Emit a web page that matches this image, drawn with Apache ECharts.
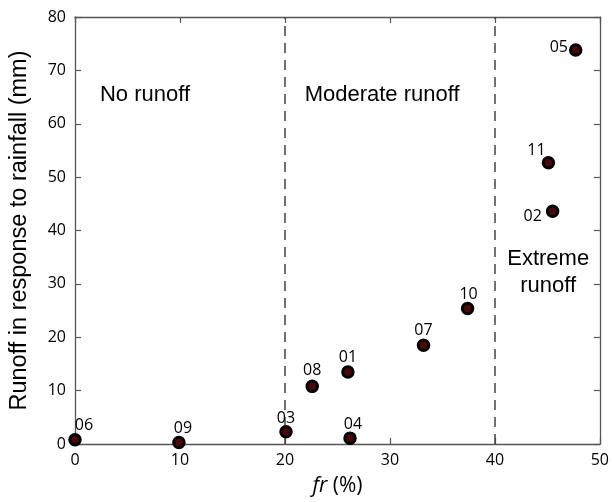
<!DOCTYPE html>
<html>
<head>
<meta charset="utf-8">
<script src="https://cdn.jsdelivr.net/npm/echarts@6/dist/echarts.min.js"></script>
<style>html,body{margin:0;padding:0;background:#fff}#c{width:612px;height:502px}</style>
</head>
<body>
<div id="c"></div>
<script>
// ---- data ----
const ids = ['06','09','03','04','08','01','07','10','05','11','02'];
const frValues = [0, 9.9, 20.1, 26.2, 22.6, 26.0, 33.2, 37.4, 47.7, 45.1, 45.5];
const runoffValues = [0.8, 0.3, 2.3, 1.1, 10.8, 13.5, 18.5, 25.4, 73.8, 52.7, 43.6];
const xTicks = [0, 10, 20, 30, 40, 50];
const yTicks = [0, 10, 20, 30, 40, 50, 60, 70, 80];
const thresholds = [20, 40];
const regionNames = ['No runoff', 'Moderate runoff', 'Extreme\nrunoff'];
const regionX = [2.4, 21.9, 45.1];
const regionY = [65.4, 65.4, 32.1];

// ---- label placement (style only) ----
const labelPlace = {
  '06': {position: 'top', offset: [9, 5]},
  '09': {position: 'top', offset: [4, 6]},
  '03': {position: 'top', offset: [0, 6]},
  '04': {position: 'top', offset: [3, 6]},
  '08': {position: 'top', offset: [0, 4]},
  '01': {position: 'top', offset: [0, 5]},
  '07': {position: 'top', offset: [0, 5]},
  '10': {position: 'top', offset: [1, 6]},
  '05': {position: 'left', offset: [4, -3]},
  '11': {position: 'top', offset: [-12, 7]},
  '02': {position: 'left', offset: [1, 5]}
};
const regionAlign = ['left', 'left', 'center'];

const tickFont = 'Open Sans';
const axisColor = '#555';
const textColor = '#000';

const points = ids.map((id, i) => ({
  value: [frValues[i], runoffValues[i]],
  name: id,
  label: Object.assign({show: true, formatter: id}, labelPlace[id])
}));

const regions = regionNames.map((n, i) => ({
  value: [regionX[i], regionY[i]],
  label: {show: true, formatter: n, position: [0, 0], align: regionAlign[i], verticalAlign: 'middle'}
}));

const xMin = xTicks[0], xMax = xTicks[xTicks.length - 1], xInt = xTicks[1] - xTicks[0];
const yMin = yTicks[0], yMax = yTicks[yTicks.length - 1], yInt = yTicks[1] - yTicks[0];

const baseAxisLine = {show: true, onZero: false, lineStyle: {color: axisColor, width: 1.3}};
const baseTick = {show: true, inside: true, length: 6, lineStyle: {color: axisColor, width: 1.2}};

const chart = echarts.init(document.getElementById('c'), null, {renderer: 'canvas'});
chart.setOption({
  animation: false,
  backgroundColor: '#fff',
  grid: {left: 74, right: 10, top: 17, bottom: 57, containLabel: false},
  xAxis: [{
    type: 'value', min: xMin, max: xMax, interval: xInt, position: 'bottom',
    axisLine: baseAxisLine, axisTick: baseTick, splitLine: {show: false},
    axisLabel: {color: textColor, fontFamily: tickFont, fontSize: 16, margin: 8},
    name: '{i|fr} (%)', nameLocation: 'middle', nameGap: 32,
    nameTextStyle: {
      color: textColor, fontFamily: tickFont, fontSize: 21,
      rich: {i: {fontStyle: 'italic', fontFamily: tickFont, fontSize: 21, color: textColor}}
    }
  }, {
    type: 'value', min: xMin, max: xMax, interval: xInt, position: 'top',
    axisLine: baseAxisLine, axisTick: baseTick, splitLine: {show: false},
    axisLabel: {show: false}
  }],
  yAxis: [{
    type: 'value', min: yMin, max: yMax, interval: yInt, position: 'left',
    axisLine: baseAxisLine, axisTick: baseTick, splitLine: {show: false},
    axisLabel: {color: textColor, fontFamily: tickFont, fontSize: 16, margin: 9},
    name: 'Runoff in response to rainfall (mm)', nameLocation: 'middle', nameGap: 43,
    nameRotate: 90,
    nameTextStyle: {color: textColor, fontFamily: 'Liberation Sans', fontSize: 23.5}
  }, {
    type: 'value', min: yMin, max: yMax, interval: yInt, position: 'right',
    axisLine: baseAxisLine, axisTick: baseTick, splitLine: {show: false},
    axisLabel: {show: false}
  }],
  series: [{
    type: 'scatter',
    xAxisIndex: 0, yAxisIndex: 0,
    data: points,
    symbol: 'circle',
    symbolSize: 10.5,
    itemStyle: {color: '#4a0808', borderColor: '#000', borderWidth: 3, opacity: 1},
    label: {color: textColor, fontFamily: tickFont, fontSize: 16, distance: 5},
    markLine: {
      silent: true, symbol: 'none',
      label: {show: false},
      lineStyle: {color: '#444', width: 1.5, type: [10, 7]},
      data: thresholds.map(t => ({xAxis: t}))
    },
    z: 5
  }, {
    type: 'scatter',
    xAxisIndex: 0, yAxisIndex: 0,
    silent: true,
    data: regions,
    symbol: 'circle',
    symbolSize: 0.5,
    itemStyle: {color: '#fff', opacity: 1},
    label: {color: '#000', textBorderWidth: 0, fontFamily: 'Liberation Sans', fontSize: 22, lineHeight: 27},
    z: 4
  }]
});
</script>
</body>
</html>
